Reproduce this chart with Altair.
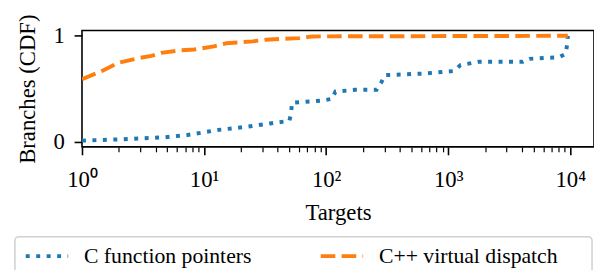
import altair as alt
import pandas as pd

# C function pointers (blue, dotted)
c_targets = [1, 2.1, 4.75, 7.3, 12.8, 22.3, 34.6, 50, 51.6, 52.5, 93, 112, 119, 173, 259, 281, 303,
             633, 1110, 1260, 1780, 4080, 4620, 8100, 9140, 9440, 9540]
c_cdf = [0.009, 0.022, 0.041, 0.062, 0.109, 0.14, 0.171, 0.196, 0.27, 0.367, 0.388, 0.404, 0.472, 0.49,
         0.49, 0.553, 0.628, 0.643, 0.667, 0.723, 0.754, 0.754, 0.782, 0.798, 0.829, 0.922, 1.0]

# C++ virtual dispatch (orange, dashed)
cpp_targets = [1, 1.46, 1.99, 2.98, 3.7, 4.46, 6.46, 8.3, 12.0, 15.3, 25, 32, 60, 78, 9540]
cpp_cdf = [0.589, 0.668, 0.745, 0.791, 0.81, 0.838, 0.863, 0.87, 0.90, 0.93, 0.947, 0.963, 0.978, 0.994, 1.0]

series_names = ["C function pointers", "C++ virtual dispatch"]
colors = ["#1f77b4", "#ff7f0e"]
dashes = [[4, 6.6], [14.8, 6.4]]

major_ticks = [1, 10, 100, 1000, 10000]
minor_ticks = [m * 10 ** e for e in range(4) for m in range(2, 10)]
x_ticks = sorted(major_ticks + minor_ticks)

df = pd.DataFrame({
    "series": [series_names[0]] * len(c_targets) + [series_names[1]] * len(cpp_targets),
    "targets": c_targets + cpp_targets,
    "cdf": c_cdf + cpp_cdf,
    "order": list(range(len(c_targets))) + list(range(len(cpp_targets))),
})

FONT = "Liberation Serif"
W, H = 519, 118

label_expr = ("datum.value == 1 ? '10⁰' : datum.value == 10 ? '10¹' : datum.value == 100 ? '10²' : "
              "datum.value == 1000 ? '10³' : datum.value == 10000 ? '10⁴' : ''")
major_test = "indexof([1, 10, 100, 1000, 10000], datum.value) >= 0"

lines = alt.Chart(df).mark_line(strokeWidth=4, clip=True).encode(
    x=alt.X("targets:Q",
            scale=alt.Scale(type="log", domain=[1, 15630], nice=False),
            axis=alt.Axis(title="Targets", values=x_ticks, labelExpr=label_expr,
                          tickSize={"condition": {"test": major_test, "value": 8}, "value": 5},
                          tickWidth={"condition": {"test": major_test, "value": 1.6}, "value": 1.2},
                          tickColor="black", domain=False, grid=False,
                          labelFont=FONT, labelFontSize=23, labelColor="black",
                          labelFlush=False, labelOverlap=False, labelPadding=14,
                          titleFont=FONT, titleFontSize=23, titleFontWeight="normal",
                          titleColor="black", titlePadding=11)),
    y=alt.Y("cdf:Q",
            scale=alt.Scale(domain=[-0.05, 1.05], nice=False, zero=False),
            axis=alt.Axis(title="Branches (CDF)", values=[0, 1], format="d",
                          tickSize=8, tickWidth=1.6, tickColor="black", domain=False, grid=False,
                          labelFont=FONT, labelFontSize=23, labelColor="black", labelPadding=10,
                          titleFont=FONT, titleFontSize=23, titleFontWeight="normal",
                          titleColor="black", titlePadding=14)),
    color=alt.Color("series:N", scale=alt.Scale(domain=series_names, range=colors),
                    legend=alt.Legend(title=None, orient="none", legendX=-59, legendY=205,
                                      direction="horizontal", columns=2, columnPadding=62,
                                      symbolType="stroke", symbolSize=1849, symbolStrokeWidth=4,
                                      labelOffset=14, labelFont=FONT, labelFontSize=22,
                                      labelLimit=400, labelColor="black", padding=0)),
    strokeDash=alt.StrokeDash("series:N", scale=alt.Scale(domain=series_names, range=dashes),
                              legend=None),
    order="order:Q",
)

box = alt.Chart(pd.DataFrame({"a": [0]})).mark_rect(
    fill="white", stroke="#d0d0d0", strokeWidth=1.5, cornerRadius=4
).encode(x=alt.value(-68), x2=alt.value(517), y=alt.value(209), y2=alt.value(262))

chart = alt.layer(box, lines).properties(
    width=W, height=H,
    autosize=alt.AutoSizeParams(type="none"),
    padding={"left": 75, "top": 21, "right": 0, "bottom": 123},
).configure_view(stroke="black", strokeWidth=1.6)

chart.save("out.html", embed_options={"renderer": "svg", "actions": False})
